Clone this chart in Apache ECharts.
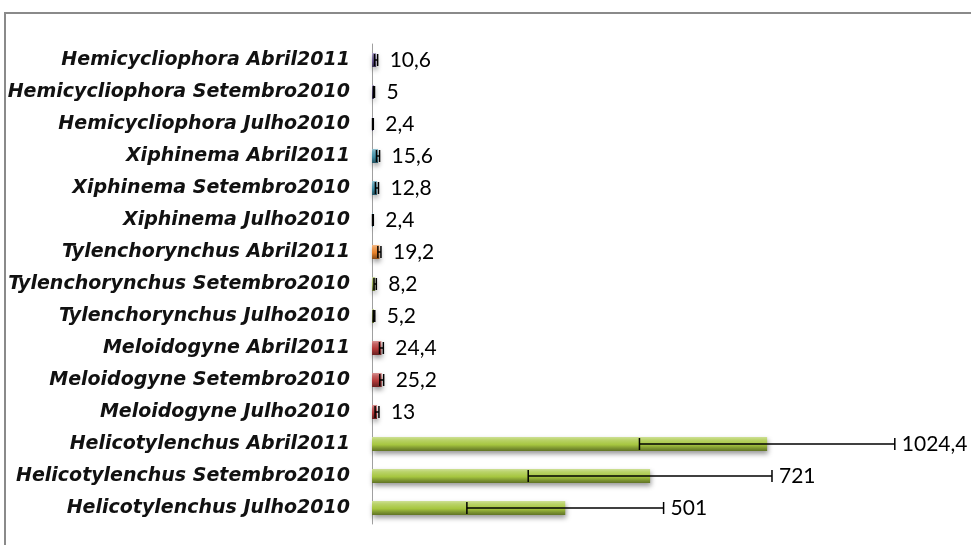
<!DOCTYPE html>
<html>
<head>
<meta charset="utf-8">
<script src="https://cdn.jsdelivr.net/npm/echarts@6/dist/echarts.min.js"></script>
<style>
  html, body { margin: 0; padding: 0; background: #fff; }
  #chart { width: 971px; height: 545px; }
</style>
</head>
<body>
<div id="chart"></div>
<script>
// Categories listed bottom to top (category axis grows upward)
const categories = [
  'Helicotylenchus Julho2010',
  'Helicotylenchus Setembro2010',
  'Helicotylenchus Abril2011',
  'Meloidogyne Julho2010',
  'Meloidogyne Setembro2010',
  'Meloidogyne Abril2011',
  'Tylenchorynchus Julho2010',
  'Tylenchorynchus Setembro2010',
  'Tylenchorynchus Abril2011',
  'Xiphinema Julho2010',
  'Xiphinema Setembro2010',
  'Xiphinema Abril2011',
  'Hemicycliophora Julho2010',
  'Hemicycliophora Setembro2010',
  'Hemicycliophora Abril2011'
];
const values = [501, 721, 1024.4, 13, 25.2, 24.4, 5.2, 8.2, 19.2, 2.4, 12.8, 15.6, 2.4, 5, 10.6];
const errors = [255, 316, 331, 5, 5, 5, 2, 3, 4, 1, 4, 4, 1, 1.5, 4];
const barColors = [
  '#a6c640', '#a6c640', '#a6c640',
  '#b53a3a', '#b53a3a', '#b53a3a',
  '#98ad4c', '#98ad4c', '#e8822a',
  '#3f8fa8', '#3f8fa8', '#3f8fa8',
  '#6a5a96', '#6a5a96', '#6a5a96'
];

function shade(hex, f) {
  const n = parseInt(hex.slice(1), 16);
  let r = (n >> 16) & 255, g = (n >> 8) & 255, b = n & 255;
  const m = c => f >= 0 ? Math.round(c + (255 - c) * f) : Math.round(c * (1 + f));
  return 'rgb(' + m(r) + ',' + m(g) + ',' + m(b) + ')';
}

function barGradient(c) {
  return new echarts.graphic.LinearGradient(0, 0, 0, 1, [
    { offset: 0, color: shade(c, 0.45) },
    { offset: 0.2, color: shade(c, 0.22) },
    { offset: 0.55, color: c },
    { offset: 0.8, color: shade(c, -0.25) },
    { offset: 1, color: shade(c, -0.42) }
  ]);
}

const fmt = v => String(v).replace('.', ',');

const barData = values.map((v, i) => ({
  value: v,
  itemStyle: { color: barGradient(barColors[i]) }
}));
const errData = values.map((v, i) => [v, i, errors[i]]);

const chart = echarts.init(document.getElementById('chart'));
chart.setOption({
  animation: false,
  graphic: [{
    type: 'rect',
    shape: { x: 5, y: 13, width: 990, height: 600 },
    style: { fill: 'none', stroke: '#8a8a8a', lineWidth: 2 },
    silent: true
  }],
  grid: { left: 372, top: 44, right: 59, bottom: 21 },
  xAxis: {
    type: 'value', min: 0, max: 1400,
    axisLine: { show: false }, axisTick: { show: false },
    axisLabel: { show: false }, splitLine: { show: false }
  },
  yAxis: {
    type: 'category',
    data: categories,
    axisLine: { show: true, lineStyle: { color: '#a0a0a0', width: 1 } },
    axisTick: { show: false },
    axisLabel: {
      margin: 22,
      fontFamily: 'DejaVu Sans',
      fontStyle: 'italic',
      fontWeight: 'bold',
      fontSize: 19,
      color: '#111'
    }
  },
  series: [
    {
      type: 'bar',
      data: barData,
      barWidth: 14,
      itemStyle: {
        shadowColor: 'rgba(0,0,0,0.4)',
        shadowBlur: 5,
        shadowOffsetY: 3,
        shadowOffsetX: 1
      }
    },
    {
      type: 'custom',
      data: errData,
      encode: { x: 0, y: 1 },
      z: 5,
      renderItem: function (params, api) {
        const v = api.value(0), idx = api.value(1), e = api.value(2);
        const lo = api.coord([Math.max(v - e, 0), idx]);
        const hi = api.coord([v + e, idx]);
        const y = lo[1];
        const cap = 6;
        const st = { stroke: '#000', lineWidth: 1.5 };
        return {
          type: 'group',
          children: [
            { type: 'line', shape: { x1: lo[0], y1: y, x2: hi[0], y2: y }, style: st },
            { type: 'line', shape: { x1: lo[0], y1: y - cap, x2: lo[0], y2: y + cap }, style: st },
            { type: 'line', shape: { x1: hi[0], y1: y - cap, x2: hi[0], y2: y + cap }, style: st },
            {
              type: 'text',
              x: hi[0] + (v > 100 ? 7 : 12), y: y,
              style: {
                text: fmt(v),
                fill: '#000',
                fontFamily: 'Lato',
                fontSize: 21,
                verticalAlign: 'middle',
                align: 'left'
              }
            }
          ]
        };
      }
    }
  ]
});
</script>
</body>
</html>
